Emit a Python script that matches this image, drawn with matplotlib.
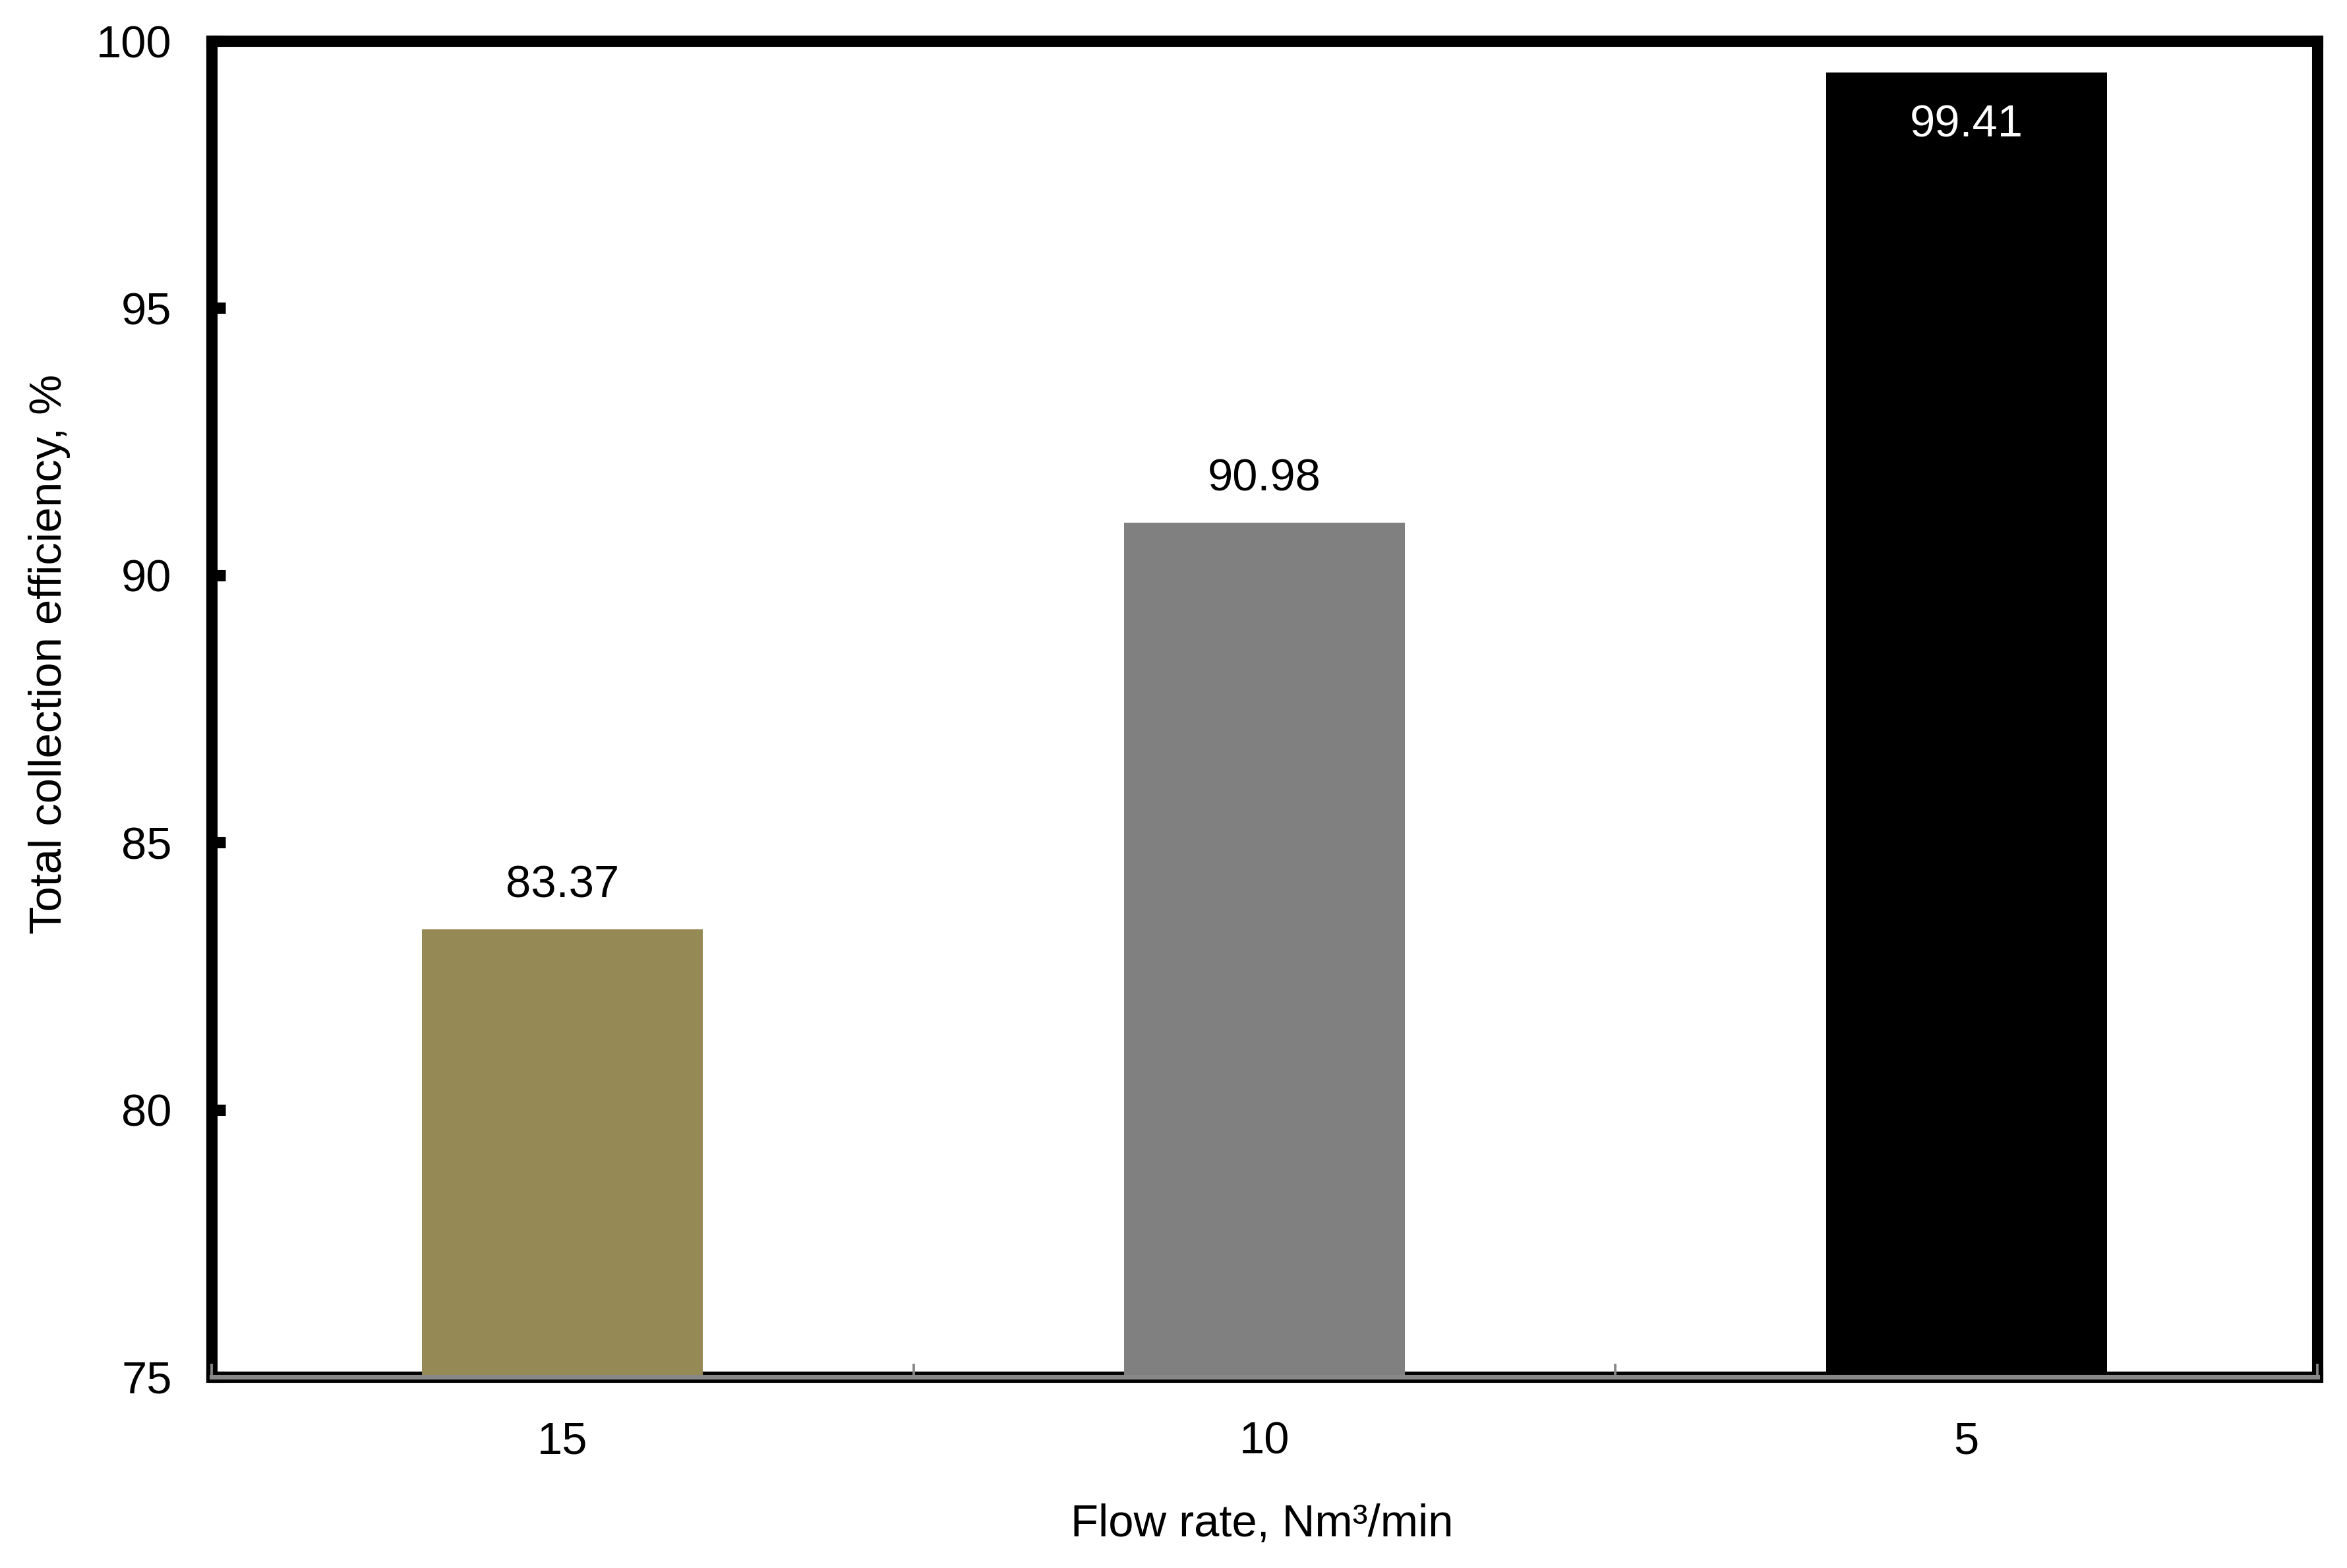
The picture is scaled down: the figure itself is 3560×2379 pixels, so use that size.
import matplotlib
matplotlib.use("Agg")
import matplotlib.pyplot as plt
from matplotlib.ticker import FixedLocator

# data
flow_rates = ["15", "10", "5"]
efficiency = [83.37, 90.98, 99.41]
bar_colors = ["#958A55", "#808080", "#000000"]
label_colors = ["black", "black", "white"]
label_inside = [False, False, True]
y_ticks = [75, 80, 85, 90, 95, 100]

plt.rcParams['font.family'] = ['Liberation Sans', 'DejaVu Sans']
fs = 16.5

fig = plt.figure(figsize=(3560 / 300, 2379 / 300), dpi=300)
ax = fig.add_axes([321 / 3560, 1 - 2089 / 2379, (3515 - 321) / 3560, (2089 - 62) / 2379])

x = list(range(len(flow_rates)))
bars = ax.bar(x, efficiency, width=0.4, color=bar_colors, zorder=3)

for rect, val, col, inside in zip(bars, efficiency, label_colors, label_inside):
    off = -19 if inside else 16
    ax.annotate(f"{val:.2f}", (rect.get_x() + rect.get_width() / 2, val),
                xytext=(0, off), textcoords="offset points",
                ha="center", va="center", color=col, fontsize=fs, zorder=5)

ax.set_xlim(-0.5, 2.5)
ax.set_ylim(75, 100)
ax.set_yticks(y_ticks)
ax.set_xticks(x)
ax.set_xticklabels(flow_rates)
ax.xaxis.set_minor_locator(FixedLocator([-0.5, 0.5, 1.5, 2.5]))

for s in ax.spines.values():
    s.set_linewidth(4.1)
    s.set_color("black")

ax.tick_params(axis="y", direction="in", length=5, width=4.1, labelsize=fs, pad=14.5)
ax.tick_params(axis="x", which="major", length=0, labelsize=fs, pad=16)
ax.tick_params(axis="x", which="minor", direction="in", length=4.8, width=0.9, color="#888888")
ax.xaxis.set_zorder(4.5)

# grey category axis line over the bottom frame
ax.axhline(75, color="#888888", lw=1.7, zorder=4, clip_on=False)

fig.text(1914 / 3560, 1 - 2313 / 2379, "Flow rate, Nm³/min", ha="center", va="center", fontsize=fs)
fig.text(75 / 3560, 1 - 992 / 2379, "Total collection efficiency, %", rotation=90,
         ha="center", va="center", fontsize=fs)

fig.savefig("out.png", dpi=300)
